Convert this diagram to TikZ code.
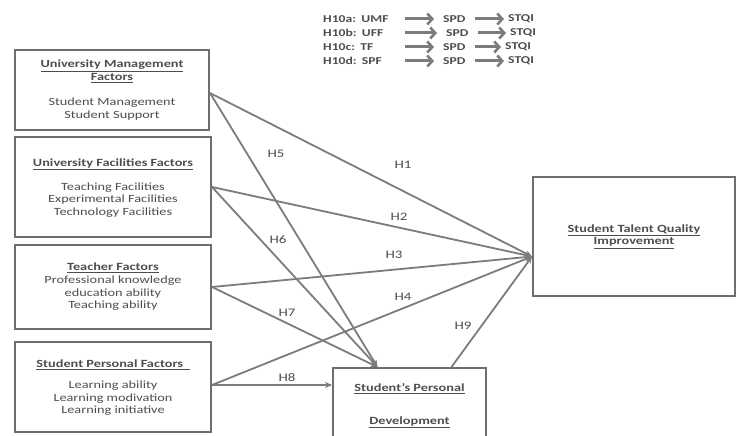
\documentclass[tikz,border=0pt]{standalone}
\usepackage{fontspec}
\setmainfont{Carlito}[FakeStretch=1.3]
\usetikzlibrary{arrows.meta}
\definecolor{linegray}{HTML}{7C7C7C}
\definecolor{boxgray}{HTML}{6E6E6E}
\definecolor{txtgray}{HTML}{4E4E4E}
\begin{document}
\begin{tikzpicture}[x=1pt,y=-1pt,
  box/.style={draw=boxgray,line width=2pt,inner sep=0pt},
  txt/.style={text=txtgray,align=center,inner sep=0pt,font=\fontsize{11}{12.7}\selectfont},
  lbl/.style={text=txtgray,inner sep=0pt,font=\fontsize{11.5}{12}\selectfont},
  conn/.style={draw=linegray,line width=1.8pt,-{Stealth[length=7pt,width=6pt]}},
  leg/.style={text=txtgray,font=\bfseries\fontsize{10.5}{11}\selectfont,inner ysep=1pt},
  legarrow/.style={draw=linegray,line width=3pt,-{Straight Barb[length=5pt,width=11pt,line width=2.6pt]}}]
\useasboundingbox (0,0) rectangle (737,436);
\fill[white] (0,0) rectangle (737,436);

% boxes
\node[box,minimum width=194pt,minimum height=80pt] (UMF) at (112,90) {};
\node[box,minimum width=196pt,minimum height=100pt] (UFF) at (113,187) {};
\node[box,minimum width=196pt,minimum height=84pt] (TF) at (113,287) {};
\node[box,minimum width=196pt,minimum height=90pt] (SPF) at (113,387) {};
\node[box,minimum width=153pt,minimum height=78pt] (SPD) at (409.5,407) {};
\node[box,minimum width=202pt,minimum height=119pt] (STQI) at (634,236.5) {};

% box texts
\node[txt] (tUMF) at (112,90) {\underline{\textbf{University Management}}\\\underline{\textbf{Factors}}\\[12pt]Student Management\\Student Support};
\node[txt] (tUFF) at (113,188) {\underline{\textbf{University Facilities Factors}}\\[11pt]Teaching Facilities\\Experimental Facilities\\Technology Facilities};
\node[txt] (tTF) at (113,287) {\underline{\textbf{Teacher Factors}}\\Professional knowledge\\education ability\\Teaching ability};
\node[txt] (tSPF) at (113,388) {\underline{\textbf{Student Personal Factors\ \ }}\\[8pt]Learning ability\\Learning modivation\\Learning initiative};
\node[txt] (tSPD) at (409.5,406) {\underline{\textbf{Student's Personal}}\\[20pt]\underline{\textbf{Development}}};
\node[txt] (tSTQI) at (634,236.5) {\underline{\textbf{Student Talent Quality}}\\\underline{\textbf{Improvement}}};

% connectors
\draw[conn] ([yshift=-3pt]UMF.east) -- ([yshift=-20pt]STQI.west);
\draw[conn] ([yshift=-3pt]UMF.east) -- ([xshift=-32pt]SPD.north);
\draw[conn] (UFF.east) -- ([yshift=-20pt]STQI.west);
\draw[conn] (UFF.east) -- ([xshift=-32pt]SPD.north);
\draw[conn] (TF.east) -- ([yshift=-20pt]STQI.west);
\draw[conn] (TF.east) -- ([xshift=-32pt]SPD.north);
\draw[conn] ([yshift=2pt]SPF.east) -- ([yshift=-20pt]STQI.west);
\draw[conn] ([yshift=2pt]SPF.east) -- ([yshift=22pt]SPD.west);
\draw[conn] ([xshift=42pt]SPD.north) -- ([yshift=-20pt]STQI.west);

% labels
\node[lbl] (h1) at (403,165) {H1};
\node[lbl] (h2) at (399,217) {H2};
\node[lbl] (h3) at (394,255) {H3};
\node[lbl] (h4) at (403,297) {H4};
\node[lbl] (h5) at (276,154) {H5};
\node[lbl] (h6) at (278,240) {H6};
\node[lbl] (h7) at (287,313) {H7};
\node[lbl] (h8) at (287,378) {H8};
\node[lbl] (h9) at (463,326) {H9};

% legend
\node[leg,anchor=west,inner xsep=0pt,text width=82pt,align=left] (La) at (323,19) {H10a: UMF};
\node[leg,anchor=west,inner xsep=0pt,text width=82pt,align=left] (Lb) at (323,33) {H10b: UFF};
\node[leg,anchor=west,inner xsep=0pt,text width=82pt,align=left] (Lc) at (323,47) {H10c: TF};
\node[leg,anchor=west,inner xsep=0pt,text width=82pt,align=left] (Ld) at (323,61) {H10d: SPF};
\node[leg,anchor=west,inner xsep=9pt] (Sa) at (434,19) {SPD};
\node[leg,anchor=west,inner xsep=9pt] (Sb) at (437,33) {SPD};
\node[leg,anchor=west,inner xsep=9pt] (Sc) at (434,47) {SPD};
\node[leg,anchor=west,inner xsep=9pt] (Sd) at (434,61) {SPD};
\node[leg,anchor=west,inner xsep=4pt] (Qa) at (504,19) {STQI};
\node[leg,anchor=west,inner xsep=4pt] (Qb) at (506,33) {STQI};
\node[leg,anchor=west,inner xsep=4pt] (Qc) at (501,47) {STQI};
\node[leg,anchor=west,inner xsep=4pt] (Qd) at (504,61) {STQI};
\draw[legarrow] (La.east) -- (Sa.west);
\draw[legarrow] (Lb.east) -- (Sb.west);
\draw[legarrow] (Lc.east) -- (Sc.west);
\draw[legarrow] (Ld.east) -- (Sd.west);
\draw[legarrow] (Sa.east) -- (Qa.west);
\draw[legarrow] (Sb.east) -- (Qb.west);
\draw[legarrow] (Sc.east) -- (Qc.west);
\draw[legarrow] (Sd.east) -- (Qd.west);
\end{tikzpicture}
\end{document}
